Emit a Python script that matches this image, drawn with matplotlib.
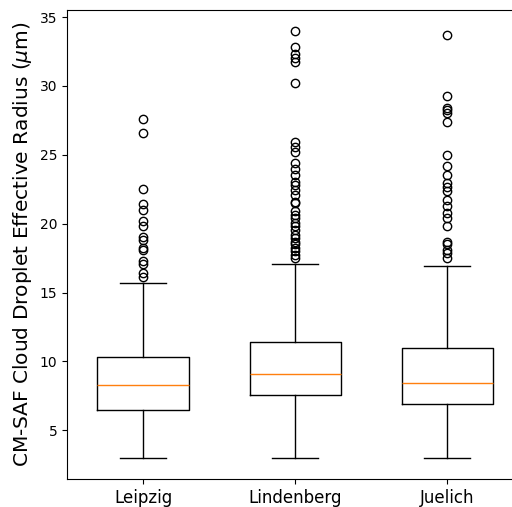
#!/usr/bin/env python3
"""Box plot of CM-SAF cloud droplet effective radius at three stations."""

import matplotlib
matplotlib.use("Agg")
import matplotlib.pyplot as plt

stations = ["Leipzig", "Lindenberg", "Juelich"]

# Box statistics (micrometres).
whisker_low = [3.0, 3.0, 3.0]
q1 = [6.5, 7.55, 6.9]
median = [8.26, 9.06, 8.4]
q3 = [10.3, 11.4, 11.0]
whisker_high = [15.7, 17.05, 16.95]

fliers_leipzig = [27.6, 26.6, 22.5, 21.45, 21.0, 20.2, 19.8, 19.0, 18.85,
                  18.25, 18.1, 17.3, 17.1, 16.4, 16.1]
fliers_lindenberg = [33.96, 32.8, 32.35, 32.0, 31.75, 30.2, 25.96, 25.6, 25.2,
                     24.4, 24.0, 23.55, 23.06, 22.8, 22.46, 22.1, 21.6, 21.5,
                     20.9, 20.65, 20.4, 20.05, 19.8, 19.57, 19.2, 18.96, 18.7,
                     18.5, 18.2, 18.0, 17.75, 17.5]
fliers_juelich = [33.7, 29.3, 28.4, 28.26, 28.07, 27.4, 25.0, 24.2, 23.55,
                  22.95, 22.7, 22.35, 21.7, 21.25, 20.8, 20.4, 19.8, 18.7,
                  18.5, 18.1, 17.9, 17.5]
fliers = [fliers_leipzig, fliers_lindenberg, fliers_juelich]


def main() -> None:
    stats = []
    for i, name in enumerate(stations):
        stats.append({
            "label": name,
            "whislo": whisker_low[i],
            "q1": q1[i],
            "med": median[i],
            "q3": q3[i],
            "whishi": whisker_high[i],
            "fliers": fliers[i],
        })

    fig = plt.figure(figsize=(5.12, 5.07), dpi=100)
    ax = fig.add_axes([0.131, 0.055, 0.891, 0.925])
    ax.bxp(stats, widths=0.6)
    ax.set_ylabel(r"CM-SAF Cloud Droplet Effective Radius ($\mu$m)", fontsize=14.5)
    ax.tick_params(axis="x", labelsize=12)
    fig.savefig("out.png", dpi=100)
    plt.close(fig)


if __name__ == "__main__":
    main()
